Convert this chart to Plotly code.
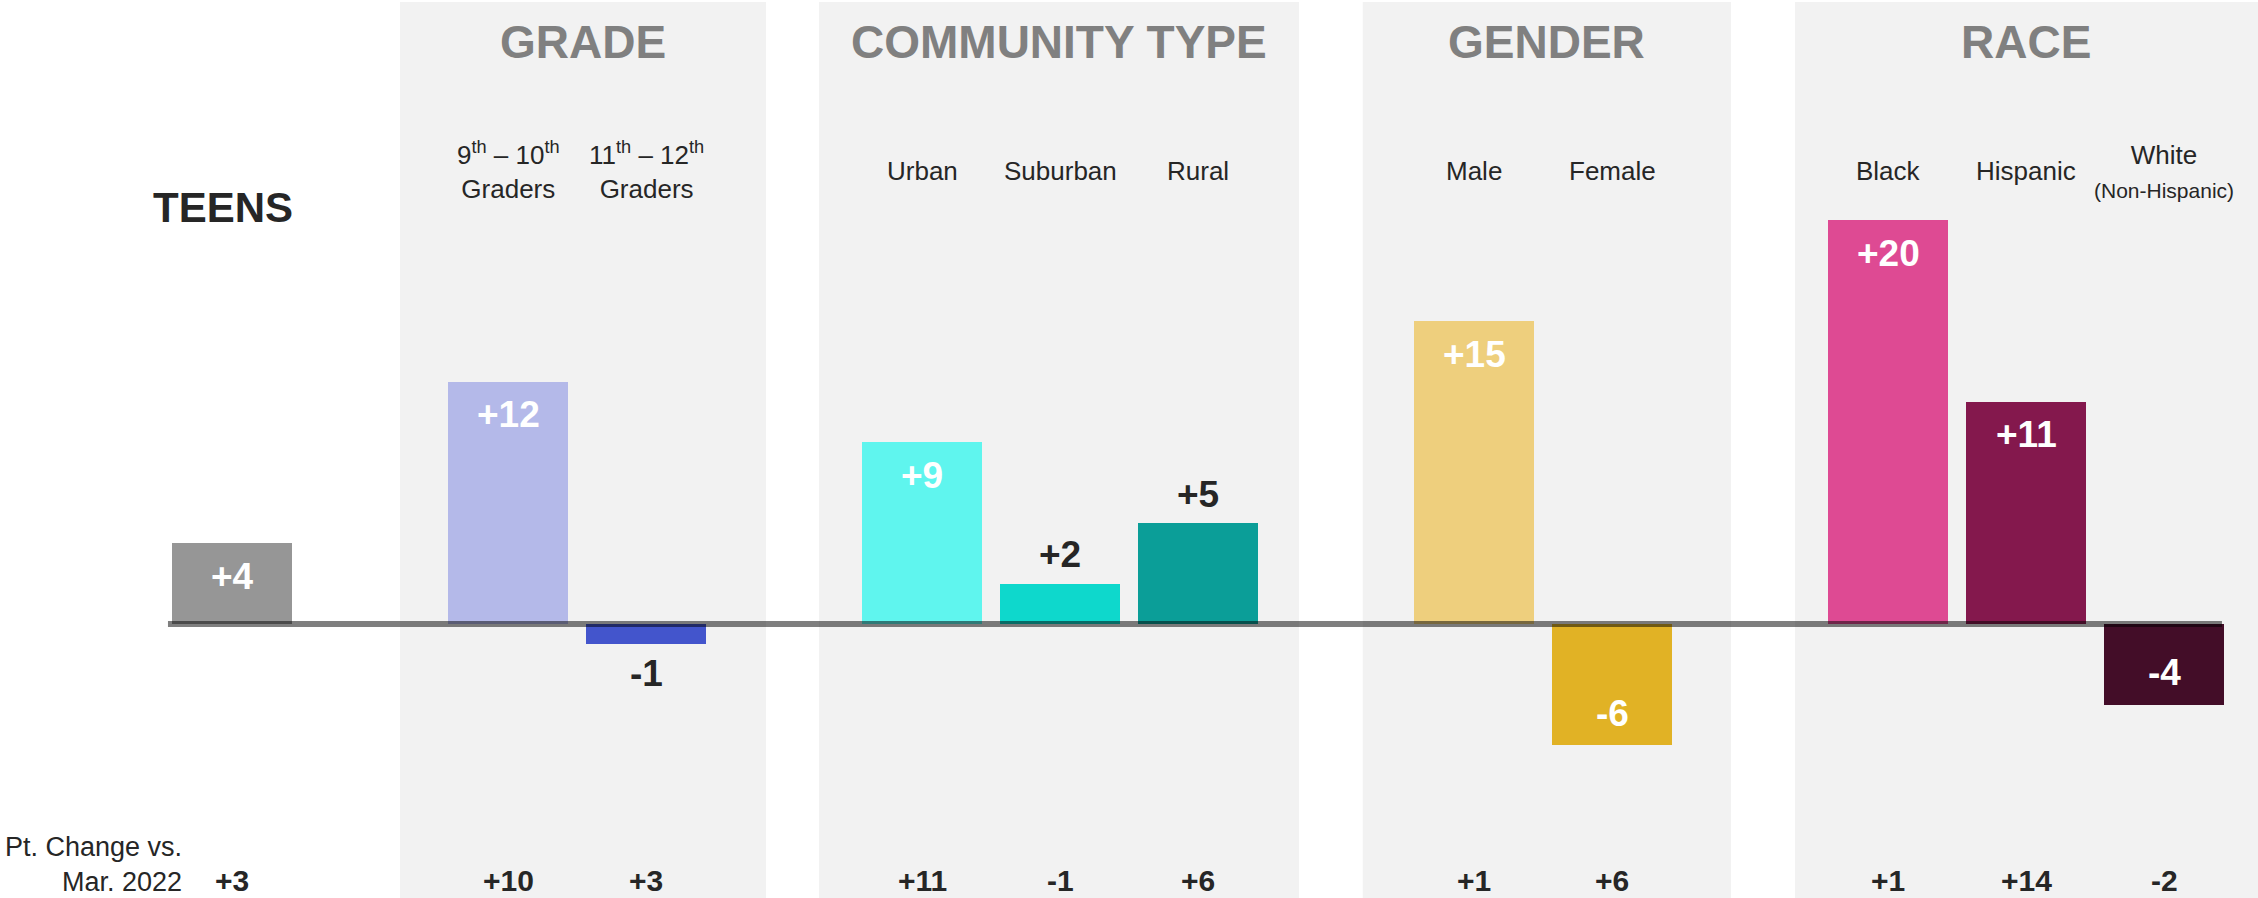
import plotly.graph_objects as go

# ---------------- data ----------------
categories = ["Teens", "9th – 10th Graders", "11th – 12th Graders", "Urban", "Suburban", "Rural",
              "Male", "Female", "Black", "Hispanic", "White (Non-Hispanic)"]
header_labels = ["", "9<sup>th</sup> – 10<sup>th</sup><br>Graders", "11<sup>th</sup> – 12<sup>th</sup><br>Graders",
                 "Urban", "Suburban", "Rural", "Male", "Female", "Black", "Hispanic",
                 "White<br><span style='font-size:21px'>(Non-Hispanic)</span>"]
group_index = [0, 1, 1, 2, 2, 2, 3, 3, 4, 4, 4]
group_names = ["TEENS", "GRADE", "COMMUNITY TYPE", "GENDER", "RACE"]
values = [4, 12, -1, 9, 2, 5, 15, -6, 20, 11, -4]
pt_change = [3, 10, 3, 11, -1, 6, 1, 6, 1, 14, -2]
bar_colors = ["#969696", "#b4b9e9", "#4355cc", "#5ff5ee", "#0ed8cc", "#0b9e98",
              "#eecf7d", "#e1b225", "#de4a93", "#84184d", "#430d28"]
label_inside = [True, True, False, True, False, False, True, True, True, True, True]

# panel paddings (in slot units) for groups 1..4
panel_pad_left = [0.783, 0.746, 0.806, 0.674]
panel_pad_right = [0.870, 0.732, 0.862, None]

FONT = "Liberation Sans, Arial, Helvetica, sans-serif"
DARK = "#262626"

W, H = 2258, 898
x_range = [-232 / 138, (W - 232) / 138]
y_range = [-13.56, 30.89]

def fmt(v):
    return f"+{v}" if v > 0 else f"{v}"

slots = [i + g for i, g in enumerate(group_index)]

fig = go.Figure()
fig.add_trace(go.Bar(
    x=slots, y=values, width=0.87,
    marker=dict(color=bar_colors, line=dict(width=0)),
    hoverinfo="skip", showlegend=False,
))

shapes = []
annotations = []

# grey panels + group titles
for g in range(1, len(group_names)):
    members = [s for s, gi in zip(slots, group_index) if gi == g]
    x0 = min(members) - panel_pad_left[g - 1]
    pr = panel_pad_right[g - 1]
    x1 = x_range[1] if pr is None else max(members) + pr
    shapes.append(dict(type="rect", xref="x", yref="paper", x0=x0, x1=x1,
                       y0=0, y1=1 - 2 / H, fillcolor="#f2f2f2", line=dict(width=0),
                       layer="below"))
    annotations.append(dict(xref="x", yref="paper", x=(x0 + x1) / 2, y=1 - 42 / H,
                            text=f"<b>{group_names[g]}</b>", showarrow=False,
                            font=dict(family=FONT, size=46, color="#808080"),
                            xanchor="center", yanchor="middle"))

# TEENS label
annotations.append(dict(xref="x", yref="paper", x=slots[0], y=1 - 207 / H, xshift=-9,
                        text=f"<b>{group_names[0]}</b>", showarrow=False,
                        font=dict(family=FONT, size=42, color=DARK),
                        xanchor="center", yanchor="middle"))

# zero line
shapes.append(dict(type="line", xref="x", yref="y", x0=slots[0] - 0.464, x1=slots[-1] + 0.42,
                   y0=0, y1=0, line=dict(color="rgba(0,0,0,0.5)", width=6), layer="above"))

for s, lab, v, pc, inside in zip(slots, header_labels, values, pt_change, label_inside):
    if lab:
        annotations.append(dict(xref="x", yref="paper", x=s, y=1 - 171 / H, text=lab,
                                showarrow=False, font=dict(family=FONT, size=26, color=DARK),
                                xanchor="center", yanchor="middle", align="center"))
    if inside:
        ysh = -33 if v > 0 else 32
        col = "white"
    else:
        ysh = 29 if v > 0 else -29
        col = DARK
    annotations.append(dict(xref="x", yref="y", x=s, y=v, yshift=ysh, text=f"<b>{fmt(v)}</b>",
                            showarrow=False, font=dict(family=FONT, size=37, color=col),
                            xanchor="center", yanchor="middle"))
    annotations.append(dict(xref="x", yref="paper", x=s, y=1 - 880 / H, text=f"<b>{fmt(pc)}</b>",
                            showarrow=False, font=dict(family=FONT, size=30, color=DARK),
                            xanchor="center", yanchor="middle"))

annotations.append(dict(xref="paper", yref="paper", x=184 / W, y=1 - 864 / H,
                        text="Pt. Change vs.<br>Mar. 2022", showarrow=False, align="right",
                        font=dict(family=FONT, size=27, color=DARK),
                        xanchor="right", yanchor="middle"))

fig.update_layout(
    width=W, height=H, margin=dict(l=0, r=0, t=0, b=0),
    paper_bgcolor="white", plot_bgcolor="rgba(0,0,0,0)",
    xaxis=dict(range=x_range, visible=False, fixedrange=True),
    yaxis=dict(range=y_range, visible=False, fixedrange=True),
    shapes=shapes, annotations=annotations, bargap=0,
)

fig.write_html("out.html", config={"displayModeBar": False},
               post_script="document.body.style.margin='0';document.body.style.overflow='hidden';")
